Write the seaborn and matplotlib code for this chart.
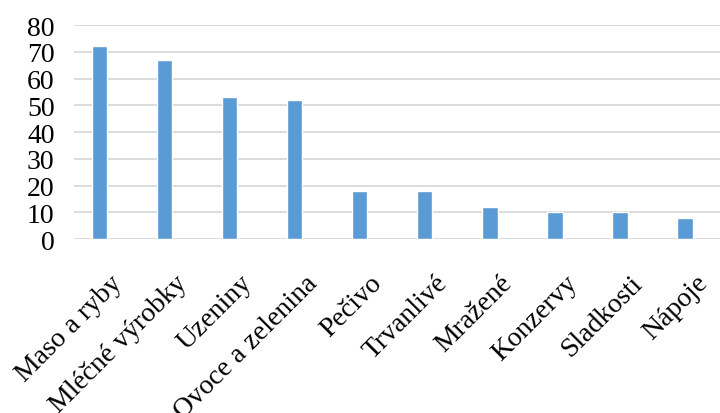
import matplotlib
matplotlib.use('Agg')
import matplotlib.pyplot as plt
import matplotlib.transforms as mtransforms
import seaborn as sns
import pandas as pd

categories = ['Maso a ryby', 'Mléčné výrobky', 'Uzeniny', 'Ovoce a zelenina', 'Pečivo',
              'Trvanlivé', 'Mražené', 'Konzervy', 'Sladkosti', 'Nápoje']
values = [72, 67, 53, 52, 18, 18, 12, 10, 10, 8]
yticks = [0, 10, 20, 30, 40, 50, 60, 70, 80]

sns.set_style('white')
plt.rcParams['font.family'] = ['Liberation Serif', 'DejaVu Serif']

df = pd.DataFrame({'cat': categories, 'val': values})

fig = plt.figure(figsize=(7.2, 4.14), dpi=100)
ax = fig.add_axes([0.1028, 0.42, 0.8972, 0.517])
sns.barplot(data=df, x='cat', y='val', color='#5B9BD5', width=0.24, saturation=1, ax=ax, zorder=3)

ax.set_xlim(-0.39, 9.54)
ax.set_ylim(0, 80)
ax.set_yticks(yticks)
ax.yaxis.grid(True, color='#D9D9D9', linewidth=1.3, zorder=0)
ax.set_axisbelow(True)
for s in ax.spines.values():
    s.set_visible(False)
ax.set_xlabel('')
ax.set_ylabel('')
ax.tick_params(axis='both', length=0, labelsize=20, colors='black')
ax.tick_params(axis='y', pad=14)
ax.set_xticks(range(len(categories)))
ax.set_xticklabels(categories, rotation=45, ha='right', va='top', rotation_mode='anchor')
ax.tick_params(axis='x', pad=0)

# shift the slanted labels like in the original (right and down)
shift = mtransforms.ScaledTranslation(0.1, -0.31, fig.dpi_scale_trans)
for lab in ax.get_xticklabels():
    lab.set_transform(lab.get_transform() + shift)

fig.savefig('out.png', dpi=100)
